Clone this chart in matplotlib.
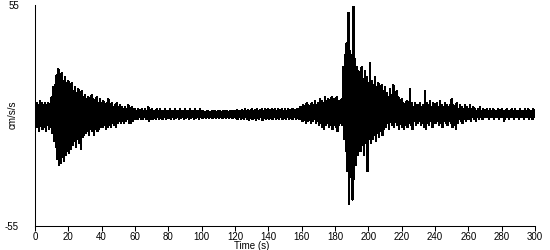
import matplotlib
matplotlib.use("Agg")
import matplotlib.pyplot as plt
import numpy as np

plt.rcParams['font.family'] = ['Liberation Sans', 'DejaVu Sans']

# Envelope of the accelerogram, one value per second (cm/s/s)
upper = [
    5, 6, 5, 7, 6, 5, 6, 5, 6, 5,
    9, 14, 15, 20, 23, 18, 21, 17, 19, 16,
    17, 15, 16, 12, 14, 11, 13, 10, 12, 9,
    10, 8, 9, 7, 10, 8, 7, 9, 6, 8,
    6, 7, 5, 6, 8, 5, 6, 4, 5, 6,
    4, 5, 4, 3, 4, 3, 5, 3, 4, 3,
    3, 2, 3, 2, 3, 2, 3, 2, 4, 2,
    3, 2, 2, 3, 2, 3, 2, 2, 3, 2,
    2, 3, 2, 2, 3, 2, 2, 3, 2, 2,
    3, 2, 2, 3, 2, 2, 3, 2, 2, 3,
    2, 2, 1.5, 2, 2, 1.5, 2, 2, 2, 1.5,
    2, 2, 1.5, 2, 2, 2, 1.5, 2, 2, 2,
    2, 2.5, 2, 2, 2.5, 2, 3, 2, 2.5, 2,
    3, 2, 2.5, 3, 2, 2.5, 3, 2, 3, 2.5,
    3, 2, 3, 2.5, 3, 2, 3, 2.5, 3, 2,
    3, 2, 3, 2, 3, 3, 2, 3, 3, 4,
    4, 5, 4, 6, 5, 4, 6, 5, 7, 5,
    6, 8, 7, 6, 9, 7, 8, 6, 9, 8,
    8, 9, 7, 7, 8, 24, 30, 36, 51, 32,
    30, 54, 28, 24, 22, 20, 24, 18, 22, 19,
    16, 26, 17, 15, 19, 14, 16, 13, 15, 12,
    14, 11, 9, 13, 10, 15, 8, 12, 9, 7,
    8, 6, 5, 7, 5, 13, 6, 4, 6, 5,
    5, 6, 4, 5, 12, 6, 5, 7, 4, 6,
    5, 6, 4, 7, 5, 4, 6, 5, 4, 5,
    8, 5, 4, 6, 3, 5, 4, 3, 5, 4,
    3, 5, 3, 4, 3, 2, 3, 4, 2, 3,
    2, 3, 2, 3, 2, 3, 2, 2, 3, 2,
    3, 2, 2, 3, 2, 2, 3, 2, 3, 2,
    2, 3, 2, 2, 3, 2, 3, 2, 2, 3,
]
lower = [
    -5, -6, -8, -5, -7, -6, -8, -5, -7, -6,
    -9, -13, -16, -22, -25, -24, -21, -23, -20, -18,
    -19, -17, -15, -13, -16, -12, -14, -17, -11, -10,
    -9, -8, -10, -7, -8, -10, -6, -8, -7, -6,
    -6, -5, -7, -6, -5, -6, -4, -5, -6, -4,
    -3, -4, -3, -4, -3, -2, -4, -4, -3, -2,
    -2, -2, -1, -2, -2, -1, -2, -2, -3, -1,
    -2, -1.5, -2, -1, -2, -1.5, -2, -1, -2, -1.5,
    -1.5, -2, -1, -2, -1.5, -1, -2, -1.5, -1, -2,
    -1.5, -1, -2, -1.5, -1, -2, -1.5, -1, -2, -1,
    -1.5, -1, -1.5, -1, -1.5, -1, -1.5, -1, -1.5, -1,
    -1.5, -1, -1.5, -1, -1.5, -1, -1.5, -1, -1.5, -1,
    -1.5, -2, -1, -2, -1.5, -2, -1, -2, -2.5, -1.5,
    -2, -1.5, -2.5, -1.5, -2, -1, -2.5, -1.5, -2, -1.5,
    -2, -1.5, -2, -1, -2, -1.5, -2, -1, -2, -1.5,
    -2, -1, -2, -1.5, -2, -1, -2, -1.5, -2, -2,
    -3, -2, -4, -3, -2, -4, -3, -2, -4, -3,
    -5, -4, -6, -7, -5, -4, -6, -5, -7, -5,
    -6, -8, -5, -4, -5, -12, -18, -28, -44, -30,
    -42, -32, -25, -20, -18, -18, -15, -20, -14, -28,
    -12, -14, -12, -10, -13, -9, -11, -8, -10, -7,
    -6, -4, -7, -3, -5, -6, -2, -5, -7, -4,
    -6, -7, -3, -6, -4, -5, -7, -3, -5, -4,
    -3, -5, -4, -6, -7, -4, -5, -3, -6, -4,
    -4, -3, -5, -4, -6, -3, -4, -5, -3, -4,
    -6, -4, -7, -4, -2, -3, -4, -2, -3, -2,
    -2, -3, -1, -2, -3, -1, -2, -1, -2, -1,
    -1, -1, -2, -1, -1, -2, -1, -1, -2, -1,
    -1, -3, -1, -1, -2, -1, -1, -2, -1, -1,
    -2, -1, -1, -2, -1, -1, -2, -1, -2, -1,
]
x_ticks = list(range(0, 301, 20))
y_ticks = [-55, 55]

# trace alternates between the positive and negative peak of each second
sec = np.arange(len(upper))
t = np.empty(2 * len(upper))
a = np.empty(2 * len(upper))
t[0::2] = sec
t[1::2] = sec + 0.5
a[0::2] = upper
a[1::2] = lower

fig = plt.figure(figsize=(5.5, 2.5), dpi=100)
ax = fig.add_axes([35/550, 1 - 225.5/250, 500/550, 220.5/250])
ax.plot(t, a, color='black', lw=1.0, antialiased=False)
ax.set_xlim(0, 300)
ax.set_ylim(-55, 55)
ax.set_xticks(x_ticks)
ax.set_yticks(y_ticks)
ax.set_yticklabels([str(v) for v in y_ticks])
for s in ['top', 'right']:
    ax.spines[s].set_visible(False)
for s in ['left', 'bottom']:
    ax.spines[s].set_linewidth(0.75)
ax.tick_params(axis='x', length=3.5, width=0.75, pad=1, labelsize=7, direction='out')
ax.tick_params(axis='y', length=0, pad=11.5, labelsize=7)
fig.text(12.5/550, 1 - 115/250, 'cm/s/s', rotation=90, ha='center', va='center', fontsize=7)
fig.text(252/550, 1 - 246/250, 'Time (s)', ha='center', va='center', fontsize=7)
fig.savefig('out.png', dpi=100)
